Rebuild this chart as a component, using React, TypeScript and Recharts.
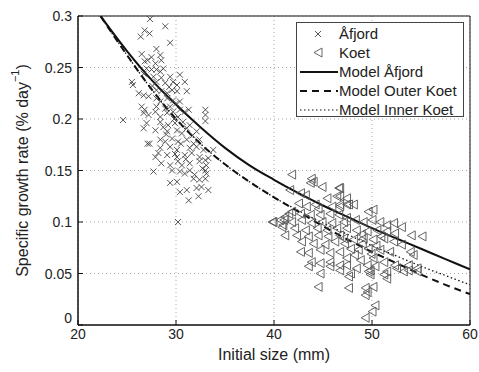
import React from 'react'
import {
  ComposedChart,
  Scatter,
  Line,
  XAxis,
  YAxis,
  CartesianGrid,
  ReferenceArea,
  Label,
} from 'recharts'

// Åfjord observations, [initial size (mm), growth rate]
const afjordPoints: [number, number][] = [
  [27.35, 0.297], [28.9, 0.29], [26.8, 0.286], [27.3, 0.283], [26.4, 0.28], [29.4, 0.274],
  [28.0, 0.268], [26.5, 0.263], [27.5, 0.26], [28.4, 0.262], [26.8, 0.256], [27.1, 0.257],
  [27.9, 0.254], [28.5, 0.257], [27.0, 0.249], [27.5, 0.248], [28.0, 0.248], [28.4, 0.246],
  [28.7, 0.249], [26.7, 0.244], [27.7, 0.241], [28.5, 0.24], [29.4, 0.241], [30.4, 0.243],
  [30.9, 0.236], [25.5, 0.236], [25.6, 0.233], [28.0, 0.236], [28.9, 0.235], [29.7, 0.236],
  [30.1, 0.233], [31.1, 0.227], [26.2, 0.225], [26.7, 0.223], [27.2, 0.222], [28.0, 0.228],
  [28.5, 0.227], [29.1, 0.225], [29.6, 0.228], [30.1, 0.227], [28.0, 0.22], [28.4, 0.217],
  [29.1, 0.22], [29.7, 0.218], [30.4, 0.217], [26.5, 0.212], [26.8, 0.209], [28.0, 0.212],
  [28.9, 0.21], [29.4, 0.212], [30.4, 0.209], [30.9, 0.207], [31.3, 0.209], [33.0, 0.209],
  [33.0, 0.204], [24.6, 0.199], [26.7, 0.206], [27.2, 0.204], [27.9, 0.207], [28.4, 0.202],
  [29.1, 0.206], [29.7, 0.207], [30.2, 0.202], [33.0, 0.198], [27.0, 0.196], [28.4, 0.197],
  [29.2, 0.194], [29.9, 0.196], [30.7, 0.197], [31.4, 0.194], [26.7, 0.191], [27.9, 0.189],
  [29.1, 0.188], [30.1, 0.189], [31.1, 0.191], [32.1, 0.188], [27.1, 0.176], [27.3, 0.176],
  [28.4, 0.18], [28.9, 0.178], [29.6, 0.181], [30.2, 0.178], [31.1, 0.18], [31.8, 0.176],
  [32.4, 0.18], [28.4, 0.172], [29.4, 0.173], [30.1, 0.17], [31.4, 0.172], [32.1, 0.173],
  [32.8, 0.17], [27.9, 0.163], [28.2, 0.167], [29.1, 0.165], [30.1, 0.163], [30.9, 0.165],
  [31.6, 0.167], [32.4, 0.163], [33.0, 0.16], [33.3, 0.162], [33.8, 0.17], [28.5, 0.157],
  [29.4, 0.155], [30.2, 0.159], [30.6, 0.155], [31.4, 0.157], [32.4, 0.159], [33.1, 0.155],
  [27.7, 0.149], [29.6, 0.15], [30.4, 0.149], [30.9, 0.147], [31.4, 0.15], [33.0, 0.15],
  [33.1, 0.147], [29.4, 0.138], [30.1, 0.139], [31.8, 0.142], [32.4, 0.141], [33.0, 0.142],
  [30.4, 0.129], [31.1, 0.131], [32.1, 0.133], [32.6, 0.134], [33.3, 0.131], [32.3, 0.125],
  [31.3, 0.121], [30.2, 0.1], [29.0, 0.185], [29.8, 0.2], [30.6, 0.186], [31.7, 0.184],
  [28.7, 0.192], [30.0, 0.215], [29.3, 0.231], [27.6, 0.232], [29.9, 0.166], [31.0, 0.161],
  [32.7, 0.152], [31.9, 0.146], [30.5, 0.176],
]

// Koet observations
const koetPoints: [number, number][] = [
  [41.8, 0.146], [43.8, 0.142], [44.0, 0.139], [43.7, 0.138], [41.6, 0.131], [44.9, 0.134],
  [46.6, 0.133], [42.7, 0.128], [43.2, 0.126], [45.4, 0.123], [46.4, 0.125], [47.4, 0.123],
  [42.5, 0.118], [43.3, 0.115], [44.2, 0.117], [44.5, 0.113], [45.9, 0.115], [46.7, 0.115],
  [47.4, 0.117], [41.8, 0.11], [42.7, 0.108], [43.7, 0.107], [44.7, 0.107], [45.7, 0.108],
  [46.6, 0.107], [39.9, 0.1], [41.0, 0.102], [41.8, 0.1], [42.8, 0.102], [43.8, 0.099],
  [44.9, 0.1], [45.9, 0.099], [47.1, 0.1], [40.8, 0.095], [42.1, 0.094], [43.2, 0.092],
  [44.4, 0.094], [45.4, 0.092], [46.4, 0.094], [42.3, 0.087], [43.5, 0.086], [44.5, 0.087],
  [45.5, 0.086], [46.7, 0.087], [42.8, 0.081], [44.0, 0.079], [45.2, 0.078], [46.2, 0.081],
  [47.2, 0.079], [42.7, 0.071], [43.5, 0.07], [44.7, 0.073], [45.7, 0.07], [46.7, 0.071],
  [43.8, 0.061], [44.7, 0.06], [45.7, 0.061], [46.7, 0.058], [46.7, 0.133], [46.7, 0.125],
  [46.7, 0.117], [47.6, 0.117], [48.1, 0.117], [49.6, 0.11], [50.1, 0.112], [47.4, 0.104],
  [48.3, 0.102], [49.1, 0.1], [50.0, 0.102], [50.8, 0.1], [51.5, 0.097], [52.2, 0.099],
  [53.0, 0.095], [54.0, 0.087], [55.1, 0.086], [47.4, 0.094], [48.4, 0.092], [49.5, 0.091],
  [50.5, 0.092], [51.5, 0.091], [52.3, 0.089], [47.1, 0.084], [48.1, 0.083], [49.1, 0.084],
  [50.1, 0.083], [51.2, 0.084], [52.2, 0.081], [53.0, 0.078], [47.8, 0.074], [48.6, 0.073],
  [49.6, 0.074], [50.8, 0.073], [51.8, 0.071], [53.9, 0.071], [54.2, 0.068], [47.4, 0.065],
  [48.8, 0.063], [50.1, 0.065], [51.2, 0.061], [52.3, 0.058], [53.7, 0.058], [54.6, 0.052],
  [48.4, 0.055], [49.8, 0.053], [51.5, 0.052], [44.7, 0.05], [44.5, 0.037], [46.7, 0.053],
  [47.6, 0.047], [47.8, 0.05], [47.6, 0.036], [49.3, 0.036], [49.5, 0.032], [49.3, 0.029],
  [50.1, 0.037], [49.6, 0.052], [49.8, 0.049], [51.2, 0.049], [51.5, 0.045], [53.2, 0.052],
  [50.3, 0.019], [50.0, 0.013], [49.3, 0.007], [54.6, 0.055], [43.5, 0.057], [45.7, 0.057],
  [47.4, 0.058], [49.5, 0.058], [50.3, 0.057], [52.5, 0.055], [53.7, 0.053], [39.8, 0.1],
  [40.6, 0.102], [41.1, 0.105], [41.5, 0.108], [41.1, 0.087], [40.9, 0.097], [48.9, 0.088],
  [50.9, 0.086], [49.0, 0.079], [50.4, 0.077], [48.2, 0.068], [49.9, 0.069],
]

// model curves
const modelSizes = [22.3, 25, 27.5, 30, 32.5, 35, 37.5, 40, 42.5, 45, 47.5, 50, 52.5, 55, 57.5, 60]
const modelAfjord = [0.3, 0.266, 0.238, 0.214, 0.192, 0.172, 0.155, 0.141, 0.128, 0.116, 0.105, 0.094, 0.084, 0.074, 0.064, 0.054]
const modelOuter = [0.3, 0.262, 0.229, 0.2, 0.176, 0.156, 0.139, 0.124, 0.11, 0.096, 0.083, 0.071, 0.06, 0.049, 0.039, 0.03]
const modelInner = [0.3, 0.262, 0.229, 0.2, 0.176, 0.156, 0.139, 0.124, 0.111, 0.099, 0.088, 0.077, 0.067, 0.057, 0.048, 0.039]

const xTicks = [20, 30, 40, 50, 60]
const yTicks = [0, 0.05, 0.1, 0.15, 0.2, 0.25, 0.3]

const afjordData = afjordPoints.map(([x, y]) => ({ x, y }))
const koetData = koetPoints.map(([x, y]) => ({ x, y }))
const afjordLine = modelSizes.map((x, i) => ({ x, y: modelAfjord[i] }))
const outerLine = modelSizes.map((x, i) => ({ x, y: modelOuter[i] }))
const innerLine = modelSizes.map((x, i) => ({ x, y: modelInner[i] }))

const FONT = '"Liberation Sans", Arial, sans-serif'

const Cross = (props: any) => {
  const { cx, cy } = props
  const s = 3
  return (
    <g stroke="#444" strokeWidth={0.9}>
      <line x1={cx - s} y1={cy - s} x2={cx + s} y2={cy + s} />
      <line x1={cx - s} y1={cy + s} x2={cx + s} y2={cy - s} />
    </g>
  )
}

const Triangle = (props: any) => {
  const { cx, cy } = props
  return (
    <path
      d={`M${cx - 4},${cy} L${cx + 4},${cy - 4.5} L${cx + 4},${cy + 4.5} Z`}
      fill="none"
      stroke="#555"
      strokeWidth={0.9}
    />
  )
}

// matlab-style: the "0" sits a bit above the corner so it clears the "20"
const YTick = (props: any) => {
  const { x, y, payload } = props
  const shift = payload.value === 0 ? -7 : 0
  return (
    <text
      x={x}
      y={y + shift}
      textAnchor="end"
      dominantBaseline="central"
      fontSize={14}
      fontFamily={FONT}
      fill="#222"
    >
      {payload.value}
    </text>
  )
}

const YLabel = (props: any) => {
  const { viewBox } = props
  const cx = 22
  const cy = viewBox.y + viewBox.height / 2
  return (
    <text
      x={cx}
      y={cy}
      transform={`rotate(-90 ${cx} ${cy})`}
      textAnchor="middle"
      dominantBaseline="central"
      fontSize={16}
      fontFamily={FONT}
      fill="#222"
    >
      Specific growth rate (% day
      <tspan fontSize={11} dy={-7}>−1</tspan>
      <tspan dy={7}>)</tspan>
    </text>
  )
}

function Legend() {
  const row = { display: 'flex', alignItems: 'center', height: 19 }
  const mark = { width: 42, display: 'flex', justifyContent: 'center' }
  return (
    <div
      style={{
        position: 'absolute',
        left: 296,
        top: 22,
        width: 168,
        height: 95,
        border: '1px solid #444',
        background: '#fff',
        fontFamily: FONT,
        fontSize: 15,
        color: '#222',
        boxSizing: 'border-box',
        paddingTop: 1,
      }}
    >
      <div style={row}>
        <div style={mark}>
          <svg width={10} height={10}><Cross cx={5} cy={5} /></svg>
        </div>
        <span>Åfjord</span>
      </div>
      <div style={row}>
        <div style={mark}>
          <svg width={10} height={11}><Triangle cx={5} cy={5.5} /></svg>
        </div>
        <span>Koet</span>
      </div>
      <div style={row}>
        <div style={mark}>
          <svg width={40} height={6}><line x1={2} y1={3} x2={40} y2={3} stroke="#111" strokeWidth={2} /></svg>
        </div>
        <span>Model Åfjord</span>
      </div>
      <div style={row}>
        <div style={mark}>
          <svg width={40} height={6}><line x1={2} y1={3} x2={40} y2={3} stroke="#111" strokeWidth={2} strokeDasharray="7 5" /></svg>
        </div>
        <span>Model Outer Koet</span>
      </div>
      <div style={row}>
        <div style={mark}>
          <svg width={40} height={6}><line x1={2} y1={3} x2={40} y2={3} stroke="#111" strokeWidth={1.2} strokeDasharray="1.5 2.5" /></svg>
        </div>
        <span>Model Inner Koet</span>
      </div>
    </div>
  )
}

export default function App() {
  return (
    <div style={{ position: 'absolute', left: 0, top: 0, width: 479, height: 372, background: '#fff' }}>
      <ComposedChart
        width={479}
        height={372}
        margin={{ top: 16, right: 9, bottom: 0, left: 0 }}
      >
        <CartesianGrid
          stroke="#aaa"
          strokeDasharray="1 3"
          horizontalValues={yTicks}
          verticalValues={xTicks}
        />
        <XAxis
          type="number"
          dataKey="x"
          domain={[20, 60]}
          ticks={xTicks}
          height={47}
          tickSize={-5}
          tickMargin={9}
          stroke="#111"
          tick={{ fill: '#222', fontSize: 14, fontFamily: FONT }}
          allowDataOverflow
        >
          <Label
            value="Initial size (mm)"
            position="insideBottom"
            offset={12}
            fontSize={16}
            fontFamily={FONT}
            fill="#222"
          />
        </XAxis>
        <YAxis
          type="number"
          dataKey="y"
          domain={[0, 0.3]}
          ticks={yTicks}
          width={78}
          tickSize={-5}
          tickMargin={11}
          stroke="#111"
          tick={<YTick />}
          allowDataOverflow
          label={<YLabel />}
        />
        <ReferenceArea x1={20} x2={60} y1={0} y2={0.3} fill="none" stroke="#111" strokeWidth={1} />
        <Scatter data={afjordData} shape={<Cross />} isAnimationActive={false} />
        <Scatter data={koetData} shape={<Triangle />} isAnimationActive={false} />
        <Line data={innerLine} dataKey="y" type="monotone" stroke="#111" strokeWidth={1.3} strokeDasharray="1.5 2.5" dot={false} isAnimationActive={false} />
        <Line data={outerLine} dataKey="y" type="monotone" stroke="#111" strokeWidth={2} strokeDasharray="7 5" dot={false} isAnimationActive={false} />
        <Line data={afjordLine} dataKey="y" type="monotone" stroke="#111" strokeWidth={2} dot={false} isAnimationActive={false} />
      </ComposedChart>
      <Legend />
    </div>
  )
}
